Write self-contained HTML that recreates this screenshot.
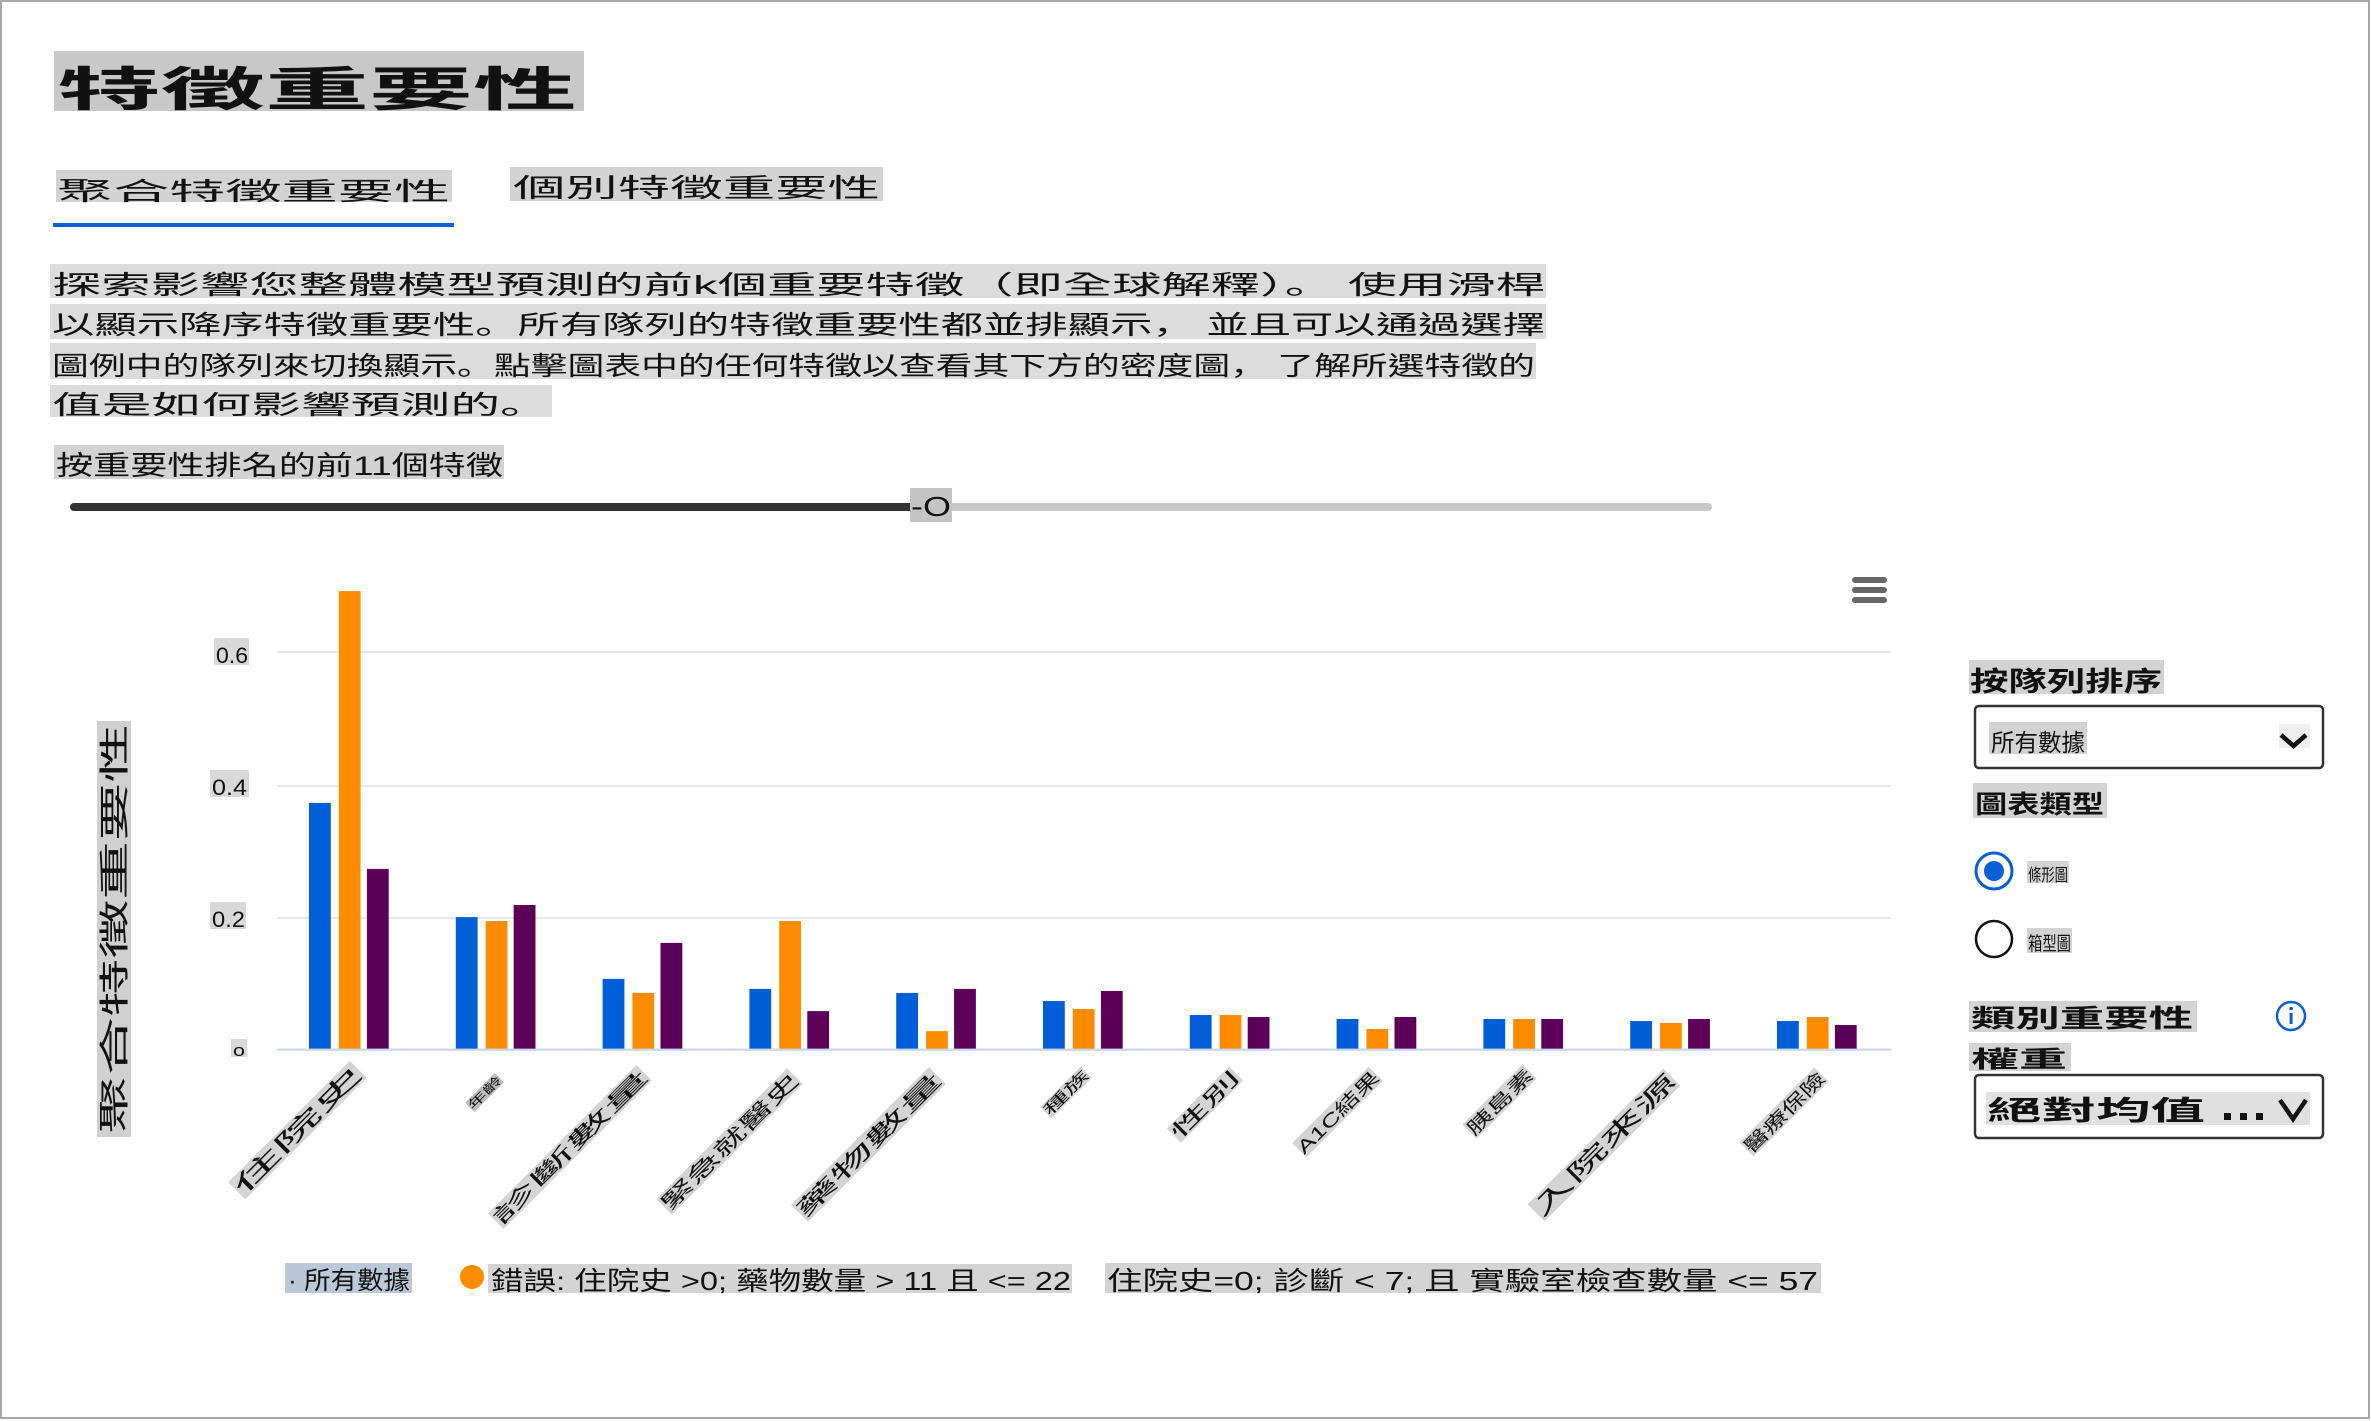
<!DOCTYPE html>
<html>
<head>
<meta charset="utf-8">
<style>
html,body{margin:0;padding:0;background:#fff;}
svg{display:block;}
text{font-family:"Liberation Sans","Noto Sans CJK TC",sans-serif;fill:#111;}
tspan.p{font-family:"Liberation Sans","Noto Sans CJK JP",sans-serif;}
</style>
</head>
<body>
<svg width="2371" height="1421" viewBox="0 0 2371 1421" xmlns="http://www.w3.org/2000/svg">
<rect x="0" y="0" width="2371" height="1421" fill="#fff"/>
<rect x="1" y="1" width="2368" height="1417" fill="none" stroke="#a8a8a8" stroke-width="2"/>

<!-- Title -->
<rect x="54" y="51" width="530" height="60" fill="#c8c8c8"/>
<text x="57" y="106" font-size="47" font-weight="bold" textLength="520" lengthAdjust="spacingAndGlyphs">特徵重要性</text>

<!-- Tabs -->
<rect x="56" y="170" width="396" height="32" fill="#d3d3d3"/>
<text x="57" y="200" font-size="25" textLength="393" lengthAdjust="spacingAndGlyphs">聚合特徵重要性</text>
<rect x="53" y="223" width="401" height="4" fill="#0a5ed7"/>
<rect x="510" y="167" width="373" height="34" fill="#d3d3d3"/>
<text x="513" y="197" font-size="26" textLength="367" lengthAdjust="spacingAndGlyphs">個別特徵重要性</text>

<!-- Description -->
<rect x="50" y="264" width="1496" height="34" fill="#dcdcdc"/>
<text x="52" y="294" font-size="26" textLength="1493" lengthAdjust="spacingAndGlyphs">探索影響您整體模型預測的前k個重要特徵（即全球解釋）<tspan class="p">。</tspan> 使用滑桿</text>
<rect x="50" y="304" width="1496" height="35" fill="#dcdcdc"/>
<text x="52" y="334" font-size="26" textLength="1493" lengthAdjust="spacingAndGlyphs">以顯示降序特徵重要性<tspan class="p">。</tspan>所有隊列的特徵重要性都並排顯示<tspan class="p">，</tspan> 並且可以通過選擇</text>
<rect x="50" y="343" width="1486" height="36" fill="#dcdcdc"/>
<text x="52" y="375" font-size="26" textLength="1483" lengthAdjust="spacingAndGlyphs">圖例中的隊列來切換顯示<tspan class="p">。</tspan>點擊圖表中的任何特徵以查看其下方的密度圖<tspan class="p">，</tspan> 了解所選特徵的</text>
<rect x="50" y="385" width="502" height="32" fill="#dcdcdc"/>
<text x="52" y="414" font-size="26" textLength="498" lengthAdjust="spacingAndGlyphs">值是如何影響預測的<tspan class="p">。</tspan></text>

<!-- Slider -->
<rect x="54" y="445" width="450" height="34" fill="#d3d3d3"/>
<text x="56" y="475" font-size="27" textLength="447" lengthAdjust="spacingAndGlyphs">按重要性排名的前11個特徵</text>
<rect x="900" y="503" width="812" height="8" rx="4" fill="#c8c8c8"/>
<rect x="70" y="503" width="845" height="8" rx="4" fill="#333"/>
<rect x="910" y="488" width="42" height="34" fill="#c4c4c4"/>
<text x="911" y="516" font-size="28" textLength="40" lengthAdjust="spacingAndGlyphs">-O</text>

<!-- Chart gridlines -->
<rect x="277" y="651" width="1614" height="2" fill="#e6e6e6"/>
<rect x="277" y="785" width="1614" height="2" fill="#e6e6e6"/>
<rect x="277" y="917" width="1614" height="2" fill="#e6e6e6"/>

<!-- Y tick labels -->
<rect x="214" y="638" width="35" height="27" fill="#d9d9d9"/>
<text x="216" y="663" font-size="22" textLength="32" lengthAdjust="spacingAndGlyphs">0.6</text>
<rect x="210" y="770" width="39" height="27" fill="#d9d9d9"/>
<text x="212" y="795" font-size="22" textLength="35" lengthAdjust="spacingAndGlyphs">0.4</text>
<rect x="210" y="902" width="36" height="27" fill="#d9d9d9"/>
<text x="212" y="927" font-size="22" textLength="33" lengthAdjust="spacingAndGlyphs">0.2</text>
<rect x="231" y="1039" width="16" height="18" fill="#d9d9d9"/>
<text x="233" y="1056" font-size="17" textLength="12" lengthAdjust="spacingAndGlyphs">o</text>

<!-- Y axis title -->
<g transform="translate(114,929) rotate(-90)">
<rect x="-208" y="-17" width="416" height="34" fill="#d0d0d0"/>
<text x="-205" y="11" font-size="30" textLength="410" lengthAdjust="spacingAndGlyphs">聚合特徵重要性</text>
</g>

<!-- Bars -->
<g>
<rect x="309" y="802.9" width="21.8" height="246.1" fill="#005ed8"/>
<rect x="455.8" y="917.1" width="21.8" height="131.9" fill="#005ed8"/>
<rect x="602.6" y="978.9" width="21.8" height="70.1" fill="#005ed8"/>
<rect x="749.4" y="988.9" width="21.8" height="60.1" fill="#005ed8"/>
<rect x="896.2" y="992.9" width="21.8" height="56.1" fill="#005ed8"/>
<rect x="1043" y="1001" width="21.8" height="48" fill="#005ed8"/>
<rect x="1189.8" y="1015" width="21.8" height="34" fill="#005ed8"/>
<rect x="1336.6" y="1019" width="21.8" height="30" fill="#005ed8"/>
<rect x="1483.4" y="1019" width="21.8" height="30" fill="#005ed8"/>
<rect x="1630.2" y="1021" width="21.8" height="28" fill="#005ed8"/>
<rect x="1777" y="1021" width="21.8" height="28" fill="#005ed8"/>
<rect x="338.8" y="591.1" width="21.8" height="457.9" fill="#ff8c00"/>
<rect x="485.6" y="921.1" width="21.8" height="127.9" fill="#ff8c00"/>
<rect x="632.4" y="992.9" width="21.8" height="56.1" fill="#ff8c00"/>
<rect x="779.2" y="921.1" width="21.8" height="127.9" fill="#ff8c00"/>
<rect x="926" y="1031.1" width="21.8" height="17.9" fill="#ff8c00"/>
<rect x="1072.8" y="1009" width="21.8" height="40" fill="#ff8c00"/>
<rect x="1219.6" y="1015" width="21.8" height="34" fill="#ff8c00"/>
<rect x="1366.4" y="1029" width="21.8" height="20" fill="#ff8c00"/>
<rect x="1513.2" y="1019" width="21.8" height="30" fill="#ff8c00"/>
<rect x="1660" y="1023" width="21.8" height="26" fill="#ff8c00"/>
<rect x="1806.8" y="1017" width="21.8" height="32" fill="#ff8c00"/>
<rect x="366.9" y="868.9" width="21.8" height="180.1" fill="#5c0058"/>
<rect x="513.7" y="905" width="21.8" height="144" fill="#5c0058"/>
<rect x="660.5" y="942.9" width="21.8" height="106.1" fill="#5c0058"/>
<rect x="807.3" y="1011.1" width="21.8" height="37.9" fill="#5c0058"/>
<rect x="954.1" y="988.9" width="21.8" height="60.1" fill="#5c0058"/>
<rect x="1100.9" y="991" width="21.8" height="58" fill="#5c0058"/>
<rect x="1247.7" y="1017" width="21.8" height="32" fill="#5c0058"/>
<rect x="1394.5" y="1017" width="21.8" height="32" fill="#5c0058"/>
<rect x="1541.3" y="1019" width="21.8" height="30" fill="#5c0058"/>
<rect x="1688.1" y="1019" width="21.8" height="30" fill="#5c0058"/>
<rect x="1834.9" y="1025" width="21.8" height="24" fill="#5c0058"/>
</g>
<rect x="277" y="1048.6" width="1614" height="2.2" fill="#ccd6eb"/>

<!-- Menu icon -->
<rect x="1852" y="577" width="35" height="6" rx="3" fill="#666"/>
<rect x="1852" y="587" width="35" height="6" rx="3" fill="#666"/>
<rect x="1852" y="597" width="35" height="6" rx="3" fill="#666"/>

<!-- X labels -->
<g transform="translate(297.5,1130) rotate(-45)"><rect x="-86" y="-12" width="172" height="24" fill="#d4d4d4"/><text x="-86" y="8" font-size="22" textLength="172" lengthAdjust="spacingAndGlyphs">住院史</text></g>
<g transform="translate(484.5,1092.5) rotate(-45)"><rect x="-21" y="-6.5" width="42" height="13" fill="#bdbdbd"/><text x="-21" y="4.5" font-size="12" textLength="42" lengthAdjust="spacingAndGlyphs">年齡</text></g>
<g transform="translate(570,1147) rotate(-45)"><rect x="-105" y="-11" width="210" height="22" fill="#d4d4d4"/><text x="-105" y="7.5" font-size="20" textLength="210" lengthAdjust="spacingAndGlyphs">診斷數量</text></g>
<g transform="translate(729.5,1141.5) rotate(-45)"><rect x="-92.5" y="-11" width="185" height="22" fill="#d4d4d4"/><text x="-92.5" y="7.5" font-size="20" textLength="185" lengthAdjust="spacingAndGlyphs">緊急就醫史</text></g>
<g transform="translate(868.5,1144.5) rotate(-45)"><rect x="-97.5" y="-12" width="195" height="24" fill="#d4d4d4"/><text x="-97.5" y="8" font-size="21" textLength="195" lengthAdjust="spacingAndGlyphs">藥物數量</text></g>
<g transform="translate(1066,1092.5) rotate(-45)"><rect x="-28.5" y="-8" width="57" height="16" fill="#d4d4d4"/><text x="-28.5" y="5.5" font-size="15" textLength="57" lengthAdjust="spacingAndGlyphs">種族</text></g>
<g transform="translate(1205,1104.5) rotate(-45)"><rect x="-44" y="-10" width="88" height="20" fill="#d4d4d4"/><text x="-44" y="7" font-size="19" textLength="88" lengthAdjust="spacingAndGlyphs">性別</text></g>
<g transform="translate(1337.5,1112) rotate(-45)"><rect x="-54" y="-10" width="108" height="20" fill="#d4d4d4"/><text x="-54" y="7" font-size="18" textLength="108" lengthAdjust="spacingAndGlyphs">A1C結果</text></g>
<g transform="translate(1499.5,1101.5) rotate(-45)"><rect x="-42.5" y="-10" width="85" height="20" fill="#d4d4d4"/><text x="-42.5" y="7" font-size="18" textLength="85" lengthAdjust="spacingAndGlyphs">胰島素</text></g>
<g transform="translate(1604,1145) rotate(-45)"><rect x="-96" y="-12" width="192" height="24" fill="#d4d4d4"/><text x="-96" y="8" font-size="22" textLength="192" lengthAdjust="spacingAndGlyphs">入院來源</text></g>
<g transform="translate(1784,1112) rotate(-45)"><rect x="-53" y="-10" width="106" height="20" fill="#d4d4d4"/><text x="-53" y="7" font-size="18" textLength="106" lengthAdjust="spacingAndGlyphs">醫療保險</text></g>

<!-- Legend -->
<rect x="285" y="1263" width="127" height="30" fill="#bcc8d9"/>
<text x="288" y="1289" font-size="25" textLength="122" lengthAdjust="spacingAndGlyphs">· 所有數據</text>
<circle cx="472" cy="1277" r="12" fill="#ff8c00"/>
<rect x="488" y="1264" width="584" height="29" fill="#d4d4d4"/>
<text x="491" y="1290" font-size="26" textLength="580" lengthAdjust="spacingAndGlyphs">錯誤: 住院史 &gt;0; 藥物數量 &gt; 11 且 &lt;= 22</text>
<rect x="1105" y="1263" width="716" height="30" fill="#d4d4d4"/>
<text x="1107" y="1290" font-size="26" textLength="711" lengthAdjust="spacingAndGlyphs">住院史=0; 診斷 &lt; 7; 且 實驗室檢查數量 &lt;= 57</text>

<!-- Right panel -->
<rect x="1969" y="660" width="195" height="34" fill="#d3d3d3"/>
<text x="1970" y="691" font-size="27" font-weight="bold" textLength="192" lengthAdjust="spacingAndGlyphs">按隊列排序</text>
<rect x="1975" y="706" width="348" height="62" rx="4" fill="#fff" stroke="#333" stroke-width="2.5"/>
<rect x="1989" y="722" width="98" height="32" fill="#d3d3d3"/>
<text x="1991" y="751" font-size="24" textLength="94" lengthAdjust="spacingAndGlyphs">所有數據</text>
<rect x="2279" y="724" width="31" height="24" fill="#eeeeee"/>
<path d="M2281,735 L2293.5,746 L2306,735" fill="none" stroke="#111" stroke-width="4.5"/>

<rect x="1973" y="783" width="134" height="35" fill="#d3d3d3"/>
<text x="1975" y="813" font-size="25" font-weight="bold" textLength="129" lengthAdjust="spacingAndGlyphs">圖表類型</text>

<circle cx="1994" cy="871" r="18" fill="#fff" stroke="#0a5ed7" stroke-width="3"/>
<circle cx="1994" cy="871" r="10" fill="#0a5ed7"/>
<rect x="2027" y="861" width="42" height="22" fill="#d3d3d3"/>
<text x="2028" y="881" font-size="17" textLength="40" lengthAdjust="spacingAndGlyphs">條形圖</text>

<circle cx="1994" cy="939" r="18" fill="#fff" stroke="#111" stroke-width="2.5"/>
<rect x="2027" y="928" width="45" height="25" fill="#d3d3d3"/>
<text x="2028" y="950" font-size="19" textLength="43" lengthAdjust="spacingAndGlyphs">箱型圖</text>

<rect x="1969" y="1001" width="228" height="31" fill="#d3d3d3"/>
<text x="1971" y="1027" font-size="25" font-weight="bold" textLength="222" lengthAdjust="spacingAndGlyphs">類別重要性</text>
<circle cx="2291" cy="1016" r="14" fill="#fff" stroke="#0a5ed7" stroke-width="2.5"/>
<rect x="2289.6" y="1013" width="3" height="11" fill="#0a5ed7"/>
<circle cx="2291.1" cy="1008.5" r="1.8" fill="#0a5ed7"/>

<rect x="1969" y="1043" width="102" height="28" fill="#d3d3d3"/>
<text x="1971" y="1067" font-size="23" font-weight="bold" textLength="96" lengthAdjust="spacingAndGlyphs">權重</text>

<rect x="1975" y="1075" width="348" height="63" rx="4" fill="#fff" stroke="#333" stroke-width="2.5"/>
<rect x="1986" y="1092" width="324" height="33" fill="#e0e0e0"/>
<text x="1987" y="1120" font-size="27" font-weight="bold" textLength="218" lengthAdjust="spacingAndGlyphs">絕對均值</text>
<rect x="2224" y="1113" width="7" height="7" fill="#111"/>
<rect x="2240" y="1113" width="7" height="7" fill="#111"/>
<rect x="2256" y="1113" width="7" height="7" fill="#111"/>
<path d="M2280,1100 L2293,1119 L2306,1100" fill="none" stroke="#111" stroke-width="4.5"/>
</svg>
</body>
</html>
